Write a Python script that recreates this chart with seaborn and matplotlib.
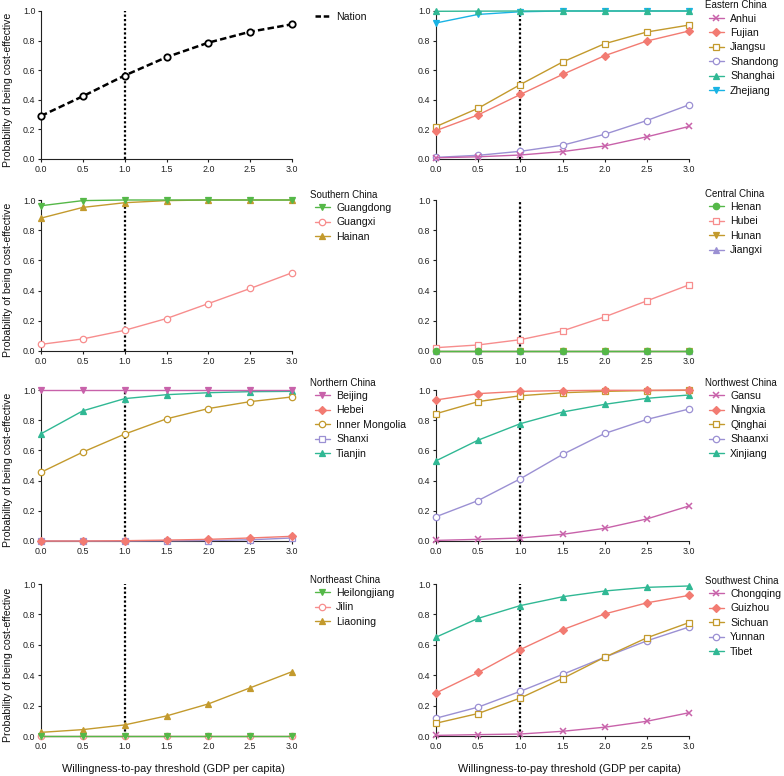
import matplotlib
matplotlib.use("Agg")
import matplotlib.pyplot as plt
from matplotlib.lines import Line2D
import seaborn as sns

# ---------------- data ----------------
wtp = [0.0, 0.5, 1.0, 1.5, 2.0, 2.5, 3.0]

nation = [0.291, 0.424, 0.564, 0.688, 0.786, 0.860, 0.910]

anhui = [0.008, 0.015, 0.027, 0.050, 0.088, 0.150, 0.220]
fujian = [0.192, 0.298, 0.436, 0.571, 0.698, 0.797, 0.865]
jiangsu = [0.219, 0.343, 0.503, 0.655, 0.779, 0.858, 0.905]
shandong = [0.011, 0.025, 0.052, 0.093, 0.167, 0.260, 0.366]
shanghai = [0.998, 0.999, 1.0, 1.0, 1.0, 1.0, 1.0]
zhejiang = [0.919, 0.977, 0.995, 1.0, 1.0, 1.0, 1.0]

guangdong = [0.962, 0.996, 1.0, 1.0, 1.0, 1.0, 1.0]
guangxi = [0.044, 0.080, 0.137, 0.215, 0.314, 0.414, 0.518]
hainan = [0.880, 0.951, 0.982, 0.996, 1.0, 1.0, 1.0]

henan = [0.0, 0.0, 0.0, 0.0, 0.0, 0.0, 0.0]
hubei = [0.022, 0.040, 0.075, 0.133, 0.226, 0.332, 0.438]
hunan = [0.0, 0.0, 0.0, 0.0, 0.0, 0.0, 0.0]
jiangxi = [0.0, 0.0, 0.0, 0.0, 0.0, 0.0, 0.0]

beijing = [1.0, 1.0, 1.0, 1.0, 1.0, 1.0, 1.0]
hebei = [0.0, 0.0, 0.002, 0.006, 0.011, 0.020, 0.031]
inner_mongolia = [0.455, 0.589, 0.708, 0.809, 0.877, 0.923, 0.954]
shanxi = [0.0, 0.0, 0.0, 0.001, 0.003, 0.008, 0.020]
tianjin = [0.710, 0.862, 0.943, 0.969, 0.982, 0.989, 0.991]

gansu = [0.004, 0.011, 0.020, 0.044, 0.084, 0.146, 0.232]
ningxia = [0.934, 0.976, 0.991, 0.996, 0.998, 0.998, 1.0]
qinghai = [0.843, 0.923, 0.962, 0.982, 0.991, 0.996, 0.998]
shaanxi = [0.161, 0.268, 0.412, 0.573, 0.712, 0.805, 0.874]
xinjiang = [0.531, 0.668, 0.777, 0.854, 0.905, 0.945, 0.967]

heilongjiang = [0.0, 0.0, 0.0, 0.0, 0.0, 0.0, 0.0]
jilin = [0.0, 0.0, 0.0, 0.0, 0.0, 0.0, 0.0]
liaoning = [0.024, 0.042, 0.073, 0.132, 0.211, 0.317, 0.423]

chongqing = [0.004, 0.009, 0.013, 0.031, 0.058, 0.097, 0.153]
guizhou = [0.283, 0.418, 0.569, 0.699, 0.803, 0.876, 0.925]
sichuan = [0.084, 0.148, 0.250, 0.378, 0.518, 0.646, 0.746]
yunnan = [0.117, 0.190, 0.294, 0.405, 0.518, 0.626, 0.717]
tibet = [0.650, 0.774, 0.858, 0.916, 0.954, 0.978, 0.987]

region_titles = [None, "Eastern China", "Southern China", "Central China",
                 "Northern China", "Northwest China", "Northeast China",
                 "Southwest China"]

# ---------------- styles ----------------
MAG = "#C862AA"
SAL = "#F27B72"
GOLD = "#C39A2D"
LAV = "#9B90D3"
TEAL = "#30B894"
CYAN = "#19B3E4"
GREEN = "#55B848"
PINK = "#F78D8D"

# (label, values, color, marker, filled)
panels = [
    [("Nation", nation, "black", "o", False)],
    [("Anhui", anhui, MAG, "x", True), ("Fujian", fujian, SAL, "D", True),
     ("Jiangsu", jiangsu, GOLD, "s", False), ("Shandong", shandong, LAV, "o", False),
     ("Shanghai", shanghai, TEAL, "^", True), ("Zhejiang", zhejiang, CYAN, "v", True)],
    [("Guangdong", guangdong, GREEN, "v", True), ("Guangxi", guangxi, PINK, "o", False),
     ("Hainan", hainan, GOLD, "^", True)],
    [("Henan", henan, GREEN, "o", True), ("Hubei", hubei, PINK, "s", False),
     ("Hunan", hunan, GOLD, "v", True), ("Jiangxi", jiangxi, LAV, "^", True)],
    [("Beijing", beijing, MAG, "v", True), ("Hebei", hebei, SAL, "D", True),
     ("Inner Mongolia", inner_mongolia, GOLD, "o", False), ("Shanxi", shanxi, LAV, "s", False),
     ("Tianjin", tianjin, TEAL, "^", True)],
    [("Gansu", gansu, MAG, "x", True), ("Ningxia", ningxia, SAL, "D", True),
     ("Qinghai", qinghai, GOLD, "s", False), ("Shaanxi", shaanxi, LAV, "o", False),
     ("Xinjiang", xinjiang, TEAL, "^", True)],
    [("Heilongjiang", heilongjiang, GREEN, "v", True), ("Jilin", jilin, PINK, "o", False),
     ("Liaoning", liaoning, GOLD, "^", True)],
    [("Chongqing", chongqing, MAG, "x", True), ("Guizhou", guizhou, SAL, "D", True),
     ("Sichuan", sichuan, GOLD, "s", False), ("Yunnan", yunnan, LAV, "o", False),
     ("Tibet", tibet, TEAL, "^", True)],
]

sns.set_style("ticks")
plt.rcParams["font.family"] = ["Liberation Sans", "DejaVu Sans"]
plt.rcParams["axes.linewidth"] = 0.8

W, H = 784, 776
fig = plt.figure(figsize=(W / 100, H / 100), dpi=100)

cols = [(41, 292), (436, 689)]
rows = [(11, 159), (200, 351), (390, 541), (584, 736)]
title_y = [None, 5, 195, 194, 383, 383, 580, 581]
first_entry_y = [18, 19.5, 209, 208, 397, 397, 594, 595]
title_x = [310, 705]
handle_x = [315, 709]

for i, series in enumerate(panels):
    r, c = divmod(i, 2)
    x0, x1 = cols[c]
    top, bot = rows[r]
    ax = fig.add_axes([x0 / W, 1 - bot / H, (x1 - x0) / W, (bot - top) / H])
    ax.axvline(1.0, color="black", linestyle=(0, (1, 1)), linewidth=1.6, zorder=1)
    handles = []
    n = len(series)
    for k, (name, vals, col, mk, filled) in enumerate(series):
        ms = 3.8 if mk == "D" else (4.8 if mk in ("x",) else 4.6)
        if name == "Nation":
            ls = (0, (2.6, 1.3))
            lw = 1.8
            mew = 1.3
        else:
            ls = "-"
            lw = 1.0
            mew = 1.1 if mk == "x" else 0.9
        sns.lineplot(x=wtp, y=vals, ax=ax, color=col, marker=mk, markersize=ms,
                     markerfacecolor=(col if filled else "white"),
                     markeredgecolor=col, markeredgewidth=mew, linewidth=lw,
                     linestyle=ls, errorbar=None, legend=False,
                     clip_on=False, zorder=10 + (n - k))
        if name == "Nation":
            handles.append(Line2D([], [], color="black", linestyle=(0, (2.2, 1.1)),
                                  linewidth=1.8))
        else:
            handles.append(ax.lines[-1])
    ax.set_xlim(0, 3)
    ax.set_ylim(0, 1)
    ax.set_xticks(wtp)
    ax.set_xticklabels([f"{v:.1f}" for v in wtp])
    ax.set_yticks([0, 0.2, 0.4, 0.6, 0.8, 1.0])
    ax.set_yticklabels(["0.0", "0.2", "0.4", "0.6", "0.8", "1.0"])
    ax.tick_params(direction="out", length=2.5, width=0.8, labelsize=6.4,
                   colors="#222222", pad=1.5)
    sns.despine(ax=ax)
    for sp in ("left", "bottom"):
        ax.spines[sp].set_color("#222222")
    if c == 0:
        ax.set_ylabel("Probability of being cost-effective", fontsize=7.6, color="#111111")
        ax.yaxis.set_label_coords((13 - x0) / (x1 - x0), 0.47)
    if r == 3:
        ax.set_xlabel("Willingness-to-pay threshold (GDP per capita)", fontsize=7.8,
                      color="#111111")
        ax.xaxis.set_label_coords(0.527, (bot - 764) / (bot - top))
    labels = [s[0] for s in series]
    ax.legend(handles, labels, loc="upper left",
              bbox_to_anchor=(handle_x[c] / W, 1 - (first_entry_y[i] - 6.0) / H),
              bbox_transform=fig.transFigure, frameon=False, borderpad=0,
              borderaxespad=0, handlelength=1.4, handletextpad=0.6,
              labelspacing=0.42, fontsize=7.6, labelcolor="#111111")
    if region_titles[i]:
        fig.text(title_x[c] / W, 1 - title_y[i] / H, region_titles[i],
                 fontsize=7.0, va="center", ha="left", color="#111111")

fig.savefig("out.png", dpi=100)
